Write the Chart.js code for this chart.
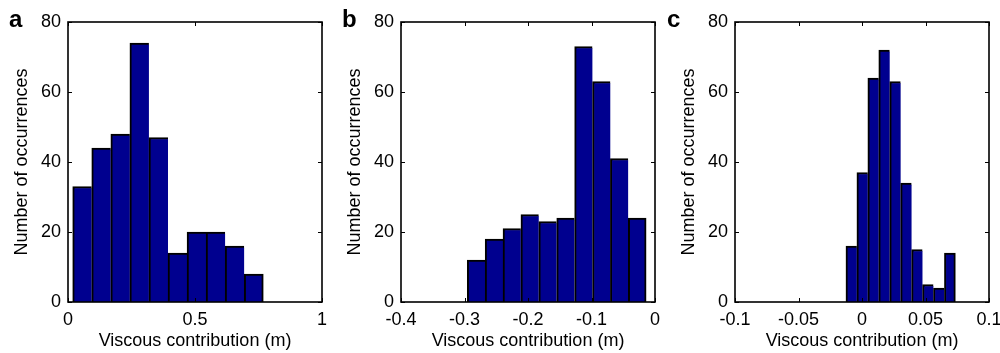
<!DOCTYPE html>
<html>
<head>
<meta charset="utf-8">
<script src="https://cdn.jsdelivr.net/npm/chart.js@4"></script>
<style>
  html, body { margin: 0; padding: 0; background: #fff; }
  #wrap { position: relative; width: 1000px; height: 353px; overflow: hidden; }
  .pane { position: absolute; top: 0; width: 333px; height: 353px; }
  .letter { position: absolute; top: 7px; font: bold 24px "Liberation Sans", Arial, sans-serif; line-height: 23px; color: #000; }
</style>
</head>
<body>
<div id="wrap">
  <div class="pane" style="left:0px"><canvas id="ca" width="333" height="353"></canvas></div>
  <div class="pane" style="left:333px"><canvas id="cb" width="333" height="353"></canvas></div>
  <div class="pane" style="left:667px"><canvas id="cc" width="333" height="353"></canvas></div>
  <div class="letter" style="left:9px">a</div>
  <div class="letter" style="left:342px">b</div>
  <div class="letter" style="left:667px">c</div>
</div>
<script>
// ---- Panel a ----
const binCentersA = [0.0560, 0.1310, 0.2061, 0.2811, 0.3562, 0.4312, 0.5062, 0.5813, 0.6563, 0.7314];
const countsA     = [33, 44, 48, 74, 47, 14, 20, 20, 16, 8];
const xRangeA     = [0, 1];
const xStepA      = 0.5;

// ---- Panel b ----
const binCentersB = [-0.2816, -0.2534, -0.2253, -0.1971, -0.1689, -0.1407, -0.1125, -0.0843, -0.0562, -0.0280];
const countsB     = [12, 18, 21, 25, 23, 24, 73, 63, 41, 24];
const xRangeB     = [-0.4, 0];
const xStepB      = 0.1;

// ---- Panel c ----
const binCentersC = [-0.00834, 0.00028, 0.00890, 0.01751, 0.02613, 0.03475, 0.04337, 0.05198, 0.06060, 0.06922];
const countsC     = [16, 37, 64, 72, 63, 34, 15, 5, 4, 14];
const xRangeC     = [-0.1, 0.1];
const xStepC      = 0.05;

// ---- shared ----
const yRange = [0, 80];
const yStep = 20;
const xTitle = 'Viscous contribution (m)';
const yTitle = 'Number of occurrences';

const FONT = '"Liberation Sans", Arial, Helvetica, sans-serif';
const BAR_FILL = '#00008F';

const fmt = (v) => String(Number(Number(v).toFixed(4)));

const framePlugin = {
  id: 'frame',
  afterDatasetsDraw(chart) {
    const { ctx, chartArea: { left, right, top, bottom }, scales: { x, y } } = chart;
    const L = 4;
    ctx.save();
    ctx.strokeStyle = '#000';
    ctx.lineWidth = 1;
    ctx.beginPath();
    x.ticks.forEach((t, i) => {
      const px = Math.round(x.getPixelForTick(i)) + 0.5;
      ctx.moveTo(px, bottom); ctx.lineTo(px, bottom - L);
      ctx.moveTo(px, top); ctx.lineTo(px, top + L);
    });
    y.ticks.forEach((t, i) => {
      const py = Math.round(y.getPixelForTick(i)) + 0.5;
      ctx.moveTo(left, py); ctx.lineTo(left + L, py);
      ctx.moveTo(right, py); ctx.lineTo(right - L, py);
    });
    ctx.stroke();
    ctx.lineWidth = 1.6;
    ctx.strokeRect(left, top, right - left, bottom - top);
    ctx.restore();
  }
};

function makeChart(id, centers, counts, xr, xstep) {
  const data = centers.map((c, i) => ({ x: c, y: counts[i] }));
  const n = data.length;
  return new Chart(document.getElementById(id), {
    type: 'bar',
    data: {
      datasets: [{
        data: data,
        backgroundColor: BAR_FILL,
        borderColor: '#000',
        borderSkipped: false,
        borderWidth: (ctx) => ({ top: 2, left: 2, bottom: 0, right: ctx.dataIndex === n - 1 ? 2 : 0 }),
        barPercentage: 1,
        categoryPercentage: 1
      }]
    },
    options: {
      responsive: false,
      animation: false,
      events: [],
      layout: { padding: { left: 0, right: 11, top: 22, bottom: 0 } },
      plugins: { legend: { display: false }, tooltip: { enabled: false } },
      scales: {
        x: {
          type: 'linear',
          min: xr[0], max: xr[1],
          offset: false,
          grid: { display: false, drawTicks: false },
          border: { display: false },
          ticks: { stepSize: xstep, padding: 7, color: '#000', font: { family: FONT, size: 18 }, maxRotation: 0, autoSkip: false, callback: fmt },
          title: { display: true, text: xTitle, color: '#000', font: { family: FONT, size: 18 }, padding: { top: 0, bottom: 1 } },
          afterFit(s) { s.height = 51; s.paddingLeft = 0; s.paddingRight = 0; }
        },
        y: {
          min: yRange[0], max: yRange[1],
          grid: { display: false, drawTicks: false },
          border: { display: false },
          ticks: { stepSize: yStep, padding: 7, color: '#000', font: { family: FONT, size: 18 }, callback: fmt },
          title: { display: true, text: yTitle, color: '#000', font: { family: FONT, size: 18 }, padding: { top: 11, bottom: 0 } },
          afterFit(s) { s.width = 68; s.paddingTop = 0; s.paddingBottom = 0; }
        }
      }
    },
    plugins: [framePlugin]
  });
}

makeChart('ca', binCentersA, countsA, xRangeA, xStepA);
makeChart('cb', binCentersB, countsB, xRangeB, xStepB);
makeChart('cc', binCentersC, countsC, xRangeC, xStepC);
</script>
</body>
</html>
